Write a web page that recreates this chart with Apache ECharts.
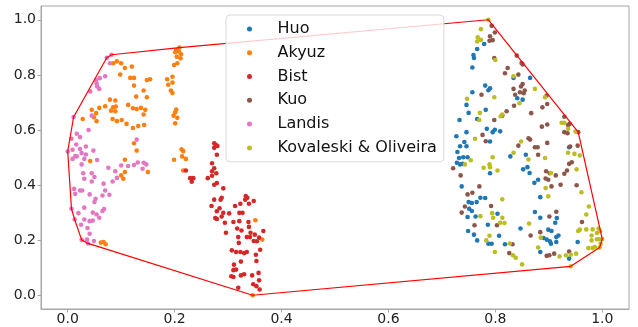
<!DOCTYPE html>
<html>
<head>
<meta charset="utf-8">
<script src="https://cdn.jsdelivr.net/npm/echarts@6/dist/echarts.min.js"></script>
<style>
html,body{margin:0;padding:0;background:#fff;}
#chart{width:638px;height:327px;}
</style>
</head>
<body>
<div id="chart"></div>
<script>
const seriesNames = ["Huo", "Akyuz", "Bist", "Kuo", "Landis", "Kovaleski & Oliveira"];
const seriesColors = ["#1f77b4", "#ff7f0e", "#d62728", "#8c564b", "#e377c2", "#bcbd22"];
const tickValues = [0.0, 0.2, 0.4, 0.6, 0.8, 1.0];

const huo = [
[0.779,0.912],[0.766,0.894],[0.759,0.872],[0.760,0.861],[0.757,0.827],[0.834,0.789],[0.781,0.761],[0.790,0.751],[0.787,0.744],[0.757,0.737],[0.746,0.691],[0.841,0.715],[0.851,0.710],[0.750,0.662],[0.782,0.673],[0.733,0.636],[0.766,0.640],[0.784,0.604],[0.799,0.601],[0.795,0.592],[0.809,0.595],[0.746,0.592],[0.727,0.577],
[0.865,0.789],
[0.742,0.556],[0.734,0.541],[0.746,0.541],[0.790,0.558],[0.729,0.520],[0.732,0.498],[0.740,0.501],[0.748,0.501],[0.728,0.481],[0.734,0.475],[0.739,0.477],[0.790,0.443],[0.828,0.504],[0.852,0.457],[0.737,0.395],[0.772,0.354],[0.781,0.353],[0.750,0.338],[0.756,0.335],[0.765,0.338],[0.751,0.314],[0.756,0.306],[0.748,0.284],[0.763,0.286],[0.804,0.296],[0.786,0.256],[0.749,0.233],[0.760,0.220],[0.807,0.216],[0.766,0.199],[0.787,0.187],[0.793,0.187],[0.818,0.185],[0.847,0.242],
[0.857,0.510],[0.938,0.537],[0.860,0.465],[0.864,0.444],[0.880,0.419],[0.873,0.408],[0.884,0.356],[0.874,0.302],[0.884,0.281],[0.912,0.263],[0.915,0.280],[0.899,0.238],[0.905,0.233],[0.918,0.217],[0.914,0.211],[0.890,0.208],[0.896,0.202],[0.902,0.196],[0.904,0.187],[0.914,0.193],[0.884,0.157],[0.954,0.193],[0.938,0.133]
];

const akyuz = [
[0.085,0.842],[0.092,0.849],[0.100,0.842],[0.107,0.825],[0.120,0.830],[0.098,0.801],[0.117,0.789],[0.124,0.789],[0.124,0.761],[0.148,0.781],[0.154,0.784],[0.142,0.743],[0.148,0.719],[0.128,0.721],[0.079,0.710],[0.089,0.707],[0.070,0.686],[0.085,0.682],[0.090,0.685],[0.081,0.670],[0.089,0.668],[0.113,0.691],[0.122,0.679],[0.129,0.676],[0.137,0.680],[0.145,0.673],[0.059,0.680],[0.045,0.673],[0.053,0.661],[0.049,0.646],[0.054,0.632],[0.028,0.640],[0.084,0.640],[0.092,0.632],[0.101,0.636],[0.142,0.656],[0.110,0.622],[0.122,0.607],[0.132,0.614],[0.143,0.618],
[0.209,0.899],[0.203,0.890],[0.201,0.882],[0.208,0.885],[0.212,0.875],[0.204,0.866],[0.211,0.860],[0.205,0.842],[0.199,0.836],[0.196,0.793],[0.186,0.784],[0.188,0.764],[0.196,0.772],[0.193,0.743],[0.196,0.734],[0.203,0.674],[0.201,0.664],[0.205,0.644],[0.198,0.652],[0.201,0.624],[0.213,0.530],[0.216,0.523],[0.214,0.504],[0.221,0.495],[0.199,0.492],[0.216,0.453],
[0.124,0.552],[0.129,0.525],[0.107,0.492],[0.042,0.487],[0.107,0.447],[0.100,0.435],[0.104,0.423],[0.150,0.447],[0.062,0.191],[0.067,0.193],[0.071,0.185],
[0.351,0.272],[0.364,0.202],[0.346,0.0]
];

const bist = [
[0.274,0.552],[0.277,0.546],[0.280,0.542],[0.274,0.535],[0.279,0.510],[0.221,0.453],[0.270,0.479],[0.274,0.461],[0.270,0.450],[0.278,0.443],[0.270,0.434],[0.262,0.425],[0.229,0.425],[0.235,0.425],[0.232,0.412],[0.279,0.407],[0.274,0.401],[0.291,0.388],
[0.274,0.347],[0.288,0.354],[0.286,0.347],[0.269,0.324],[0.284,0.316],[0.279,0.305],[0.291,0.299],[0.302,0.297],[0.276,0.280],[0.279,0.277],[0.288,0.286],[0.294,0.263],[0.313,0.324],[0.323,0.332],[0.333,0.360],[0.336,0.354],[0.332,0.347],[0.339,0.332],[0.348,0.342],[0.321,0.299],[0.327,0.299],[0.310,0.266],[0.321,0.269],[0.338,0.266],[0.296,0.227],[0.317,0.242],[0.325,0.235],[0.339,0.248],[0.342,0.227],[0.350,0.220],[0.366,0.233],[0.335,0.211],[0.341,0.211],[0.348,0.197],[0.354,0.196],[0.358,0.209],[0.319,0.211],[0.320,0.190],[0.307,0.163],[0.315,0.157],[0.323,0.157],[0.330,0.153],[0.335,0.157],[0.360,0.165],[0.352,0.147],[0.324,0.122],[0.353,0.124],[0.311,0.111],[0.310,0.091],[0.315,0.093],[0.330,0.076],[0.345,0.072],[0.357,0.081],[0.306,0.069],[0.310,0.066],[0.324,0.072],[0.347,0.040],[0.358,0.054],[0.353,0.033],[0.359,0.021],[0.319,0.027]
];

const kuo = [
[0.793,0.978],[0.799,0.954],[0.790,0.940],[0.789,0.924],[0.795,0.926],[0.798,0.861],[0.823,0.825],[0.818,0.806],[0.843,0.801],[0.840,0.870],[0.849,0.843],[0.834,0.749],[0.848,0.758],[0.851,0.767],[0.846,0.737],[0.837,0.728],[0.853,0.733],[0.835,0.688],[0.774,0.728],[0.821,0.668],[0.813,0.652],[0.798,0.636],[0.776,0.582],
[0.851,0.838],[0.855,0.743],[0.896,0.725],[0.888,0.682],[0.897,0.694],[0.867,0.661],[0.929,0.648],[0.887,0.612],[0.897,0.620],[0.936,0.618],[0.939,0.622],[0.929,0.592],[0.935,0.588],[0.955,0.592],[0.862,0.570],[0.865,0.565],
[0.782,0.559],[0.843,0.543],[0.721,0.461],[0.735,0.435],[0.770,0.395],[0.757,0.372],[0.748,0.366],[0.792,0.324],[0.743,0.322],[0.737,0.300],[0.761,0.254],[0.803,0.254],[0.832,0.185],[0.826,0.153],
[0.897,0.553],[0.874,0.537],[0.879,0.537],[0.880,0.510],[0.940,0.540],[0.954,0.543],[0.943,0.483],[0.938,0.477],[0.895,0.450],[0.902,0.443],[0.913,0.435],[0.929,0.441],[0.934,0.453],[0.894,0.424],[0.899,0.419],[0.922,0.401],[0.905,0.395],[0.952,0.399],[0.914,0.303],[0.901,0.286],[0.962,0.266],[0.884,0.229],[0.866,0.217],[0.938,0.159],[0.896,0.143],[0.901,0.145],[0.910,0.151]
];

const landis = [
[0.082,0.873],[0.073,0.862],[0.079,0.842],[0.070,0.795],[0.060,0.788],[0.053,0.781],[0.054,0.769],[0.055,0.758],[0.059,0.749],[0.042,0.740],[0.045,0.652],[0.011,0.647],[0.039,0.600],[0.017,0.586],[0.023,0.574],[0.007,0.568],[0.129,0.565],
[0.016,0.547],[0.034,0.540],[0.023,0.531],[0.009,0.528],[0.000,0.522],[0.026,0.516],[0.034,0.511],[0.048,0.525],[0.014,0.505],[0.017,0.504],[0.009,0.495],[0.031,0.495],[0.055,0.491],[0.026,0.475],[0.076,0.463],[0.089,0.450],[0.100,0.471],[0.113,0.469],[0.124,0.473],[0.131,0.482],[0.142,0.481],[0.147,0.475],[0.140,0.459],[0.029,0.443],[0.045,0.443],[0.050,0.429],[0.031,0.423],[0.045,0.413],[0.092,0.426],[0.084,0.413],[0.067,0.405],[0.012,0.386],[0.023,0.380],[0.027,0.380],[0.014,0.368],[0.070,0.380],[0.041,0.366],[0.065,0.362],[0.078,0.365],[0.052,0.350],[0.050,0.338],[0.031,0.318],[0.065,0.306],[0.068,0.313],[0.007,0.314],[0.020,0.298],[0.047,0.300],[0.054,0.293],[0.059,0.281],[0.013,0.275],[0.031,0.275],[0.041,0.269],[0.047,0.271],[0.025,0.256],[0.037,0.244],[0.041,0.223],[0.036,0.202],[0.026,0.201],[0.049,0.197],[0.038,0.188]
];

const kovaleski = [
[0.787,1.0],[0.773,0.966],[0.767,0.936],[0.773,0.927],[0.766,0.921],[0.800,0.854],[0.834,0.795],[0.798,0.719],[0.747,0.713],[0.771,0.662],[0.810,0.650],[0.813,0.656],[0.770,0.636],[0.845,0.697],[0.762,0.568],
[0.874,0.749],[0.893,0.719],[0.924,0.626],[0.929,0.626],[0.936,0.604],[0.950,0.594],
[0.848,0.558],[0.754,0.490],[0.743,0.475],[0.795,0.501],[0.834,0.517],[0.789,0.475],[0.790,0.465],[0.778,0.463],[0.804,0.453],[0.813,0.348],[0.794,0.298],[0.772,0.287],[0.796,0.281],[0.813,0.281],[0.809,0.263],[0.817,0.262],[0.789,0.216],[0.783,0.199],[0.799,0.157],[0.827,0.188],[0.833,0.145],[0.838,0.136],[0.850,0.112],
[0.862,0.493],[0.893,0.498],[0.936,0.517],[0.948,0.513],[0.958,0.507],[0.952,0.457],[0.904,0.444],[0.894,0.389],[0.899,0.359],[0.961,0.374],[0.975,0.322],[0.970,0.293],[0.863,0.260],
[0.955,0.233],[0.958,0.238],[0.970,0.239],[0.982,0.239],[0.993,0.242],[0.990,0.226],[0.996,0.232],[0.980,0.217],[0.990,0.203],[0.994,0.203],[0.980,0.199],[1.0,0.204],[0.997,0.187],[0.974,0.171],[0.982,0.171],[0.986,0.175],[0.995,0.173],
[0.885,0.209],[0.880,0.173],[0.920,0.141],[0.932,0.145],[0.941,0.147],[0.951,0.151],[0.941,0.105]
];

const groups = [huo, akyuz, bist, kuo, landis, kovaleski];

// convex hull of all points (monotone chain)
function convexHull(pts) {
  const p = pts.slice().sort((a, b) => a[0] - b[0] || a[1] - b[1]);
  const cross = (o, a, b) => (a[0] - o[0]) * (b[1] - o[1]) - (a[1] - o[1]) * (b[0] - o[0]);
  const lower = [];
  for (const q of p) {
    while (lower.length >= 2 && cross(lower[lower.length - 2], lower[lower.length - 1], q) <= 0) lower.pop();
    lower.push(q);
  }
  const upper = [];
  for (let i = p.length - 1; i >= 0; i--) {
    const q = p[i];
    while (upper.length >= 2 && cross(upper[upper.length - 2], upper[upper.length - 1], q) <= 0) upper.pop();
    upper.push(q);
  }
  upper.pop(); lower.pop();
  const h = lower.concat(upper);
  h.push(h[0]);
  return h;
}
const hull = convexHull([].concat(...groups));

const chart = echarts.init(document.getElementById('chart'), null, { renderer: 'canvas' });
const axisGray = '#a6a6a6';
const fontFam = 'DejaVu Sans';

function makeAxis(margin) {
  return {
    type: 'value',
    min: -0.05,
    max: 1.05,
    splitLine: { show: false },
    axisLine: { show: true, onZero: false, lineStyle: { color: axisGray, width: 1 } },
    axisTick: { show: true, length: 3.5, lineStyle: { color: axisGray }, customValues: tickValues },
    axisLabel: { show: true, customValues: tickValues, color: '#222', fontSize: 14, fontFamily: fontFam,
      margin: margin, formatter: v => Number(v).toFixed(1) }
  };
}

const series = groups.map((g, i) => ({
  name: seriesNames[i],
  type: 'scatter',
  data: g,
  symbol: 'circle',
  symbolSize: 4.6,
  itemStyle: { color: seriesColors[i], opacity: 1 },
  z: 2,
  emphasis: { disabled: true }
}));
series.push({
  name: 'hull',
  type: 'line',
  data: hull,
  symbol: 'none',
  lineStyle: { color: '#ff0000', width: 1.2 },
  z: 3,
  silent: true
});

chart.setOption({
  animation: false,
  backgroundColor: '#fff',
  grid: { left: 41, top: 6, width: 588, height: 303, show: true, borderColor: axisGray, borderWidth: 1, backgroundColor: 'transparent' },
  xAxis: makeAxis(3),
  yAxis: makeAxis(5),
  legend: {
    data: seriesNames,
    orient: 'vertical',
    left: 226,
    top: 15,
    padding: [2, 7, 2, 21],
    itemGap: 0,
    itemWidth: 40,
    itemHeight: 5,
    icon: 'circle',
    backgroundColor: 'rgba(255,255,255,0.8)',
    borderColor: '#d9d9d9',
    borderWidth: 1,
    borderRadius: 4,
    textStyle: { fontSize: 16, fontFamily: fontFam, color: '#111', lineHeight: 23.8, padding: [0, 0, 0, 3] },
    selectedMode: false,
    z: 10
  },
  series: series
});
</script>
</body>
</html>
